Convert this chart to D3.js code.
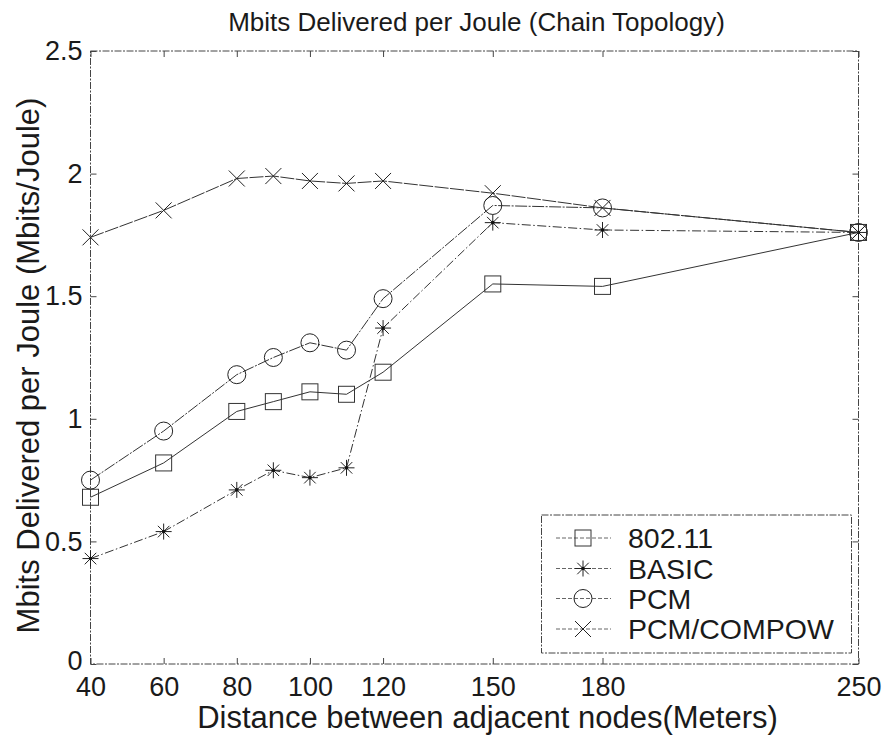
<!DOCTYPE html>
<html>
<head>
<meta charset="utf-8">
<script src="https://cdn.jsdelivr.net/npm/d3@7"></script>
<style>
  html, body { margin: 0; padding: 0; background: #fff; }
  svg { display: block; font-family: "Liberation Sans", Arial, Helvetica, sans-serif; }
</style>
</head>
<body>
<svg id="chart" width="890" height="742"></svg>
<script>
// Distance between adjacent nodes (m)
const distances = [40, 60, 80, 90, 100, 110, 120, 150, 180, 250];
// Mbits delivered per Joule for each protocol
const ieee80211 = [0.68, 0.82, 1.03, 1.07, 1.11, 1.10, 1.19, 1.55, 1.54, 1.76];
const basic     = [0.43, 0.54, 0.71, 0.79, 0.76, 0.80, 1.37, 1.80, 1.77, 1.76];
const pcm       = [0.75, 0.95, 1.18, 1.25, 1.31, 1.28, 1.49, 1.87, 1.86, 1.76];
const compow    = [1.74, 1.85, 1.98, 1.99, 1.97, 1.96, 1.97, 1.92, 1.86, 1.76];

const seriesNames = ["802.11", "BASIC", "PCM", "PCM/COMPOW"];
const xTicks = [40, 60, 80, 100, 120, 150, 180, 250];
const yTicks = [0, 0.5, 1, 1.5, 2, 2.5];

const titleText = "Mbits Delivered per Joule (Chain Topology)";
const xLabelText = "Distance between adjacent nodes(Meters)";
const yLabelText = "Mbits Delivered per Joule (Mbits/Joule)";

const svg = d3.select("#chart");
const plotL = 90.5, plotR = 858.5, plotT = 51, plotB = 664;

const x = d3.scaleLinear().domain([40, 250]).range([plotL, plotR]);
const y = d3.scaleLinear().domain([0, 2.5]).range([plotB, plotT]);

const ink = "#1a1a1a";
const frameInk = "#444";

// plot frame
svg.append("rect")
  .attr("x", plotL).attr("y", plotT)
  .attr("width", plotR - plotL).attr("height", plotB - plotT)
  .attr("fill", "none").attr("stroke", frameInk).attr("stroke-width", 1)
  .attr("stroke-dasharray", "7,1.5,2,1.5");

// axes with inward ticks, mirrored on top and right
const tickLen = 6;
const xAxis = d3.axisBottom(x).tickValues(xTicks).tickSizeInner(-tickLen).tickSizeOuter(0).tickPadding(13).tickFormat(d3.format("d"));
const yAxis = d3.axisLeft(y).tickValues(yTicks).tickSizeInner(-tickLen).tickSizeOuter(0).tickPadding(8).tickFormat(d => String(d));

const gx = svg.append("g").attr("transform", `translate(0,${plotB})`).call(xAxis);
const gy = svg.append("g").attr("transform", `translate(${plotL},0)`).call(yAxis);
const gxTop = svg.append("g").attr("transform", `translate(0,${plotT})`)
  .call(d3.axisTop(x).tickValues(xTicks).tickSizeInner(-tickLen).tickSizeOuter(0).tickFormat(""));
const gyRight = svg.append("g").attr("transform", `translate(${plotR},0)`)
  .call(d3.axisRight(y).tickValues(yTicks).tickSizeInner(-tickLen).tickSizeOuter(0).tickFormat(""));

[gx, gy, gxTop, gyRight].forEach(g => {
  g.select(".domain").remove();
  g.selectAll(".tick line").attr("stroke", frameInk);
  g.selectAll("text").attr("fill", ink).attr("font-size", 27)
    .attr("font-family", "'Liberation Sans', Arial, sans-serif");
});
// the zero label sits just above the first distance label
gy.selectAll(".tick").filter(d => d === 0).select("text").attr("dy", "0.2em");

// titles
svg.append("text").attr("x", (plotL + plotR) / 2 + 2).attr("y", 31)
  .attr("text-anchor", "middle").attr("font-size", 26).attr("fill", ink).text(titleText);
svg.append("text").attr("x", (plotL + plotR) / 2 + 13).attr("y", 728)
  .attr("text-anchor", "middle").attr("font-size", 31).attr("fill", ink).text(xLabelText);
svg.append("text")
  .attr("transform", `translate(39,${(plotT + plotB) / 2 + 8}) rotate(-90)`)
  .attr("text-anchor", "middle").attr("font-size", 31).attr("fill", ink).text(yLabelText);

// marker drawing helpers
function drawMarker(g, kind, cx, cy) {
  const s = 8;
  if (kind === "square") {
    g.append("rect").attr("x", cx - s).attr("y", cy - s).attr("width", 2 * s).attr("height", 2 * s)
      .attr("fill", "none").attr("stroke", "#333").attr("stroke-width", 1);
  } else if (kind === "circle") {
    g.append("circle").attr("cx", cx).attr("cy", cy).attr("r", 9)
      .attr("fill", "none").attr("stroke", "#222").attr("stroke-width", 1);
  } else if (kind === "x") {
    g.append("path").attr("d", `M${cx - s},${cy - s}L${cx + s},${cy + s}M${cx - s},${cy + s}L${cx + s},${cy - s}`)
      .attr("stroke", "#222").attr("stroke-width", 1).attr("fill", "none");
  } else if (kind === "star") {
    const d = s * 0.72;
    g.append("path").attr("d",
      `M${cx - s},${cy}L${cx + s},${cy}M${cx},${cy - s}L${cx},${cy + s}` +
      `M${cx - d},${cy - d}L${cx + d},${cy + d}M${cx - d},${cy + d}L${cx + d},${cy - d}`)
      .attr("stroke", "#222").attr("stroke-width", 1).attr("fill", "none");
    g.append("circle").attr("cx", cx).attr("cy", cy).attr("r", 1.8).attr("fill", "#111");
  }
}

const series = [
  { name: seriesNames[0], values: ieee80211, marker: "square", dash: null },
  { name: seriesNames[1], values: basic, marker: "star", dash: "9,2.5,1.5,2.5" },
  { name: seriesNames[2], values: pcm, marker: "circle", dash: "12,1.5,2,1.5" },
  { name: seriesNames[3], values: compow, marker: "x", dash: "14,1.5" }
];

const line = d3.line().x(d => x(d[0])).y(d => y(d[1]));

series.forEach(s => {
  const pts = distances.map((d, i) => [d, s.values[i]]);
  const g = svg.append("g");
  g.append("path").attr("d", line(pts)).attr("fill", "none")
    .attr("stroke", "#333").attr("stroke-width", 1)
    .attr("stroke-dasharray", s.dash);
  pts.forEach(p => drawMarker(g, s.marker, x(p[0]), y(p[1])));
});

// legend
const lg = svg.append("g");
const lx0 = 541.5, ly0 = 515, lw = 310, lh = 138;
lg.append("rect").attr("x", lx0).attr("y", ly0).attr("width", lw).attr("height", lh)
  .attr("fill", "#fff").attr("stroke", frameInk).attr("stroke-width", 1)
  .attr("stroke-dasharray", "7,1.5,2,1.5");
const rowY = [538, 568.5, 598.5, 629];
series.forEach((s, i) => {
  const cy = rowY[i];
  lg.append("line").attr("x1", 556).attr("x2", 611).attr("y1", cy).attr("y2", cy)
    .attr("stroke", "#666").attr("stroke-width", 1).attr("stroke-dasharray", "4,2");
  drawMarker(lg, s.marker, 583, cy);
  lg.append("text").attr("x", 628).attr("y", cy + 10).attr("font-size", 28.5)
    .attr("fill", ink).text(s.name);
});
</script>
</body>
</html>
